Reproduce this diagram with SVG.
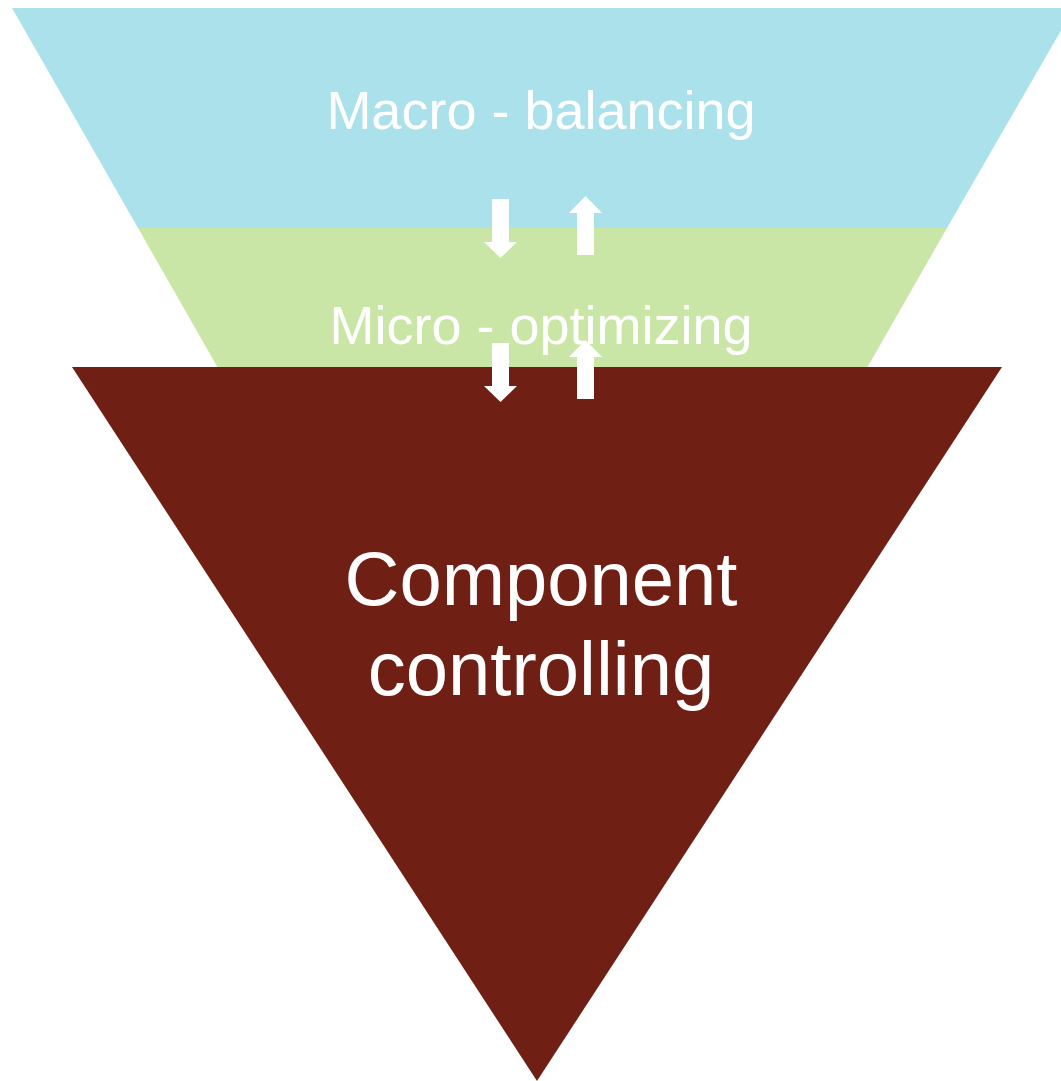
<svg xmlns="http://www.w3.org/2000/svg" xmlns:xlink="http://www.w3.org/1999/xlink" width="1061" height="1081" viewBox="0 0 1061 1081">
  <style>
    .lbl { font-family: "Liberation Sans", Arial, Helvetica, sans-serif; fill: #ffffff; text-anchor: middle; }
    .arrow { fill: #ffffff; }
  </style>
  <defs>
    <path id="downArrow" d="M -8.5 0 L 8.5 0 L 8.5 43 L 16.5 43 L 0 59 L -16.5 43 L -8.5 43 Z"/>
    <path id="upArrow" d="M 0 0 L 16.5 17 L 8.5 17 L 8.5 59 L -8.5 59 L -8.5 17 L -16.5 17 Z"/>
  </defs>
  <rect width="1061" height="1081" fill="#ffffff"/>
  <g id="macro">
    <polygon points="12,8 1074,8 947,228 138,228" fill="#AAE1EA"/>
    <text class="lbl" x="541" y="129" font-size="54">Macro - balancing</text>
  </g>
  <g id="micro">
    <polygon points="138,228 947,228 867,368 218,368" fill="#C9E6A6"/>
    <text class="lbl" x="541" y="344" font-size="54">Micro - optimizing</text>
  </g>
  <g id="component">
    <polygon points="72,367 1002,367 537,1081" fill="#6F1F13"/>
    <text class="lbl" x="541" y="605" font-size="76">Component</text>
    <text class="lbl" x="541" y="695" font-size="76">controlling</text>
  </g>
  <g id="connectors" class="arrow">
    <use xlink:href="#downArrow" x="500.5" y="199"/>
    <use xlink:href="#upArrow" x="585.5" y="196"/>
    <use xlink:href="#downArrow" x="500.5" y="343"/>
    <use xlink:href="#upArrow" x="585.5" y="340"/>
  </g>
</svg>
